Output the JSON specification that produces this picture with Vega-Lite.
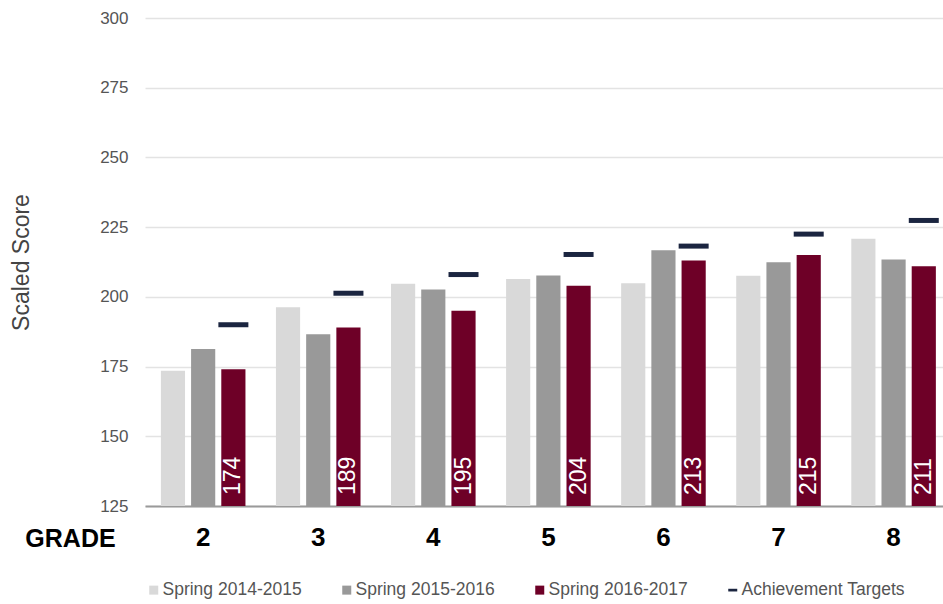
{
  "$schema": "https://vega.github.io/schema/vega-lite/v6.json",
  "width": 798,
  "height": 488,
  "autosize": {"type": "none"},
  "padding": {"left": 145, "top": 18, "right": 0, "bottom": 98},
  "background": "white",
  "config": {
    "view": {"stroke": null},
    "font": "Liberation Sans"
  },
  "datasets": {
    "scores": [
      {"grade": "2", "series": "Spring 2014-2015", "score": 173.5},
      {"grade": "2", "series": "Spring 2015-2016", "score": 181.3},
      {"grade": "2", "series": "Spring 2016-2017", "score": 174},
      {"grade": "3", "series": "Spring 2014-2015", "score": 196.3},
      {"grade": "3", "series": "Spring 2015-2016", "score": 186.6},
      {"grade": "3", "series": "Spring 2016-2017", "score": 189},
      {"grade": "4", "series": "Spring 2014-2015", "score": 204.7},
      {"grade": "4", "series": "Spring 2015-2016", "score": 202.6},
      {"grade": "4", "series": "Spring 2016-2017", "score": 195},
      {"grade": "5", "series": "Spring 2014-2015", "score": 206.4},
      {"grade": "5", "series": "Spring 2015-2016", "score": 207.7},
      {"grade": "5", "series": "Spring 2016-2017", "score": 204},
      {"grade": "6", "series": "Spring 2014-2015", "score": 204.9},
      {"grade": "6", "series": "Spring 2015-2016", "score": 216.7},
      {"grade": "6", "series": "Spring 2016-2017", "score": 213},
      {"grade": "7", "series": "Spring 2014-2015", "score": 207.6},
      {"grade": "7", "series": "Spring 2015-2016", "score": 212.4},
      {"grade": "7", "series": "Spring 2016-2017", "score": 215},
      {"grade": "8", "series": "Spring 2014-2015", "score": 220.8},
      {"grade": "8", "series": "Spring 2015-2016", "score": 213.4},
      {"grade": "8", "series": "Spring 2016-2017", "score": 211}
    ],
    "targets": [
      {"grade": "2", "series": "Spring 2016-2017", "kind": "Achievement Targets", "target": 190},
      {"grade": "3", "series": "Spring 2016-2017", "kind": "Achievement Targets", "target": 201.3},
      {"grade": "4", "series": "Spring 2016-2017", "kind": "Achievement Targets", "target": 208},
      {"grade": "5", "series": "Spring 2016-2017", "kind": "Achievement Targets", "target": 215.2},
      {"grade": "6", "series": "Spring 2016-2017", "kind": "Achievement Targets", "target": 218.2},
      {"grade": "7", "series": "Spring 2016-2017", "kind": "Achievement Targets", "target": 222.5},
      {"grade": "8", "series": "Spring 2016-2017", "kind": "Achievement Targets", "target": 227.4}
    ]
  },
  "encoding": {
    "x": {
      "field": "grade",
      "type": "nominal",
      "sort": ["2", "3", "4", "5", "6", "7", "8"],
      "scale": {"paddingInner": 0.265, "paddingOuter": 0.1, "align": 0.69},
      "axis": {
        "title": "GRADE",
        "titleFontSize": 25,
        "titleFontWeight": "bold",
        "titleColor": "#000000",
        "titleAlign": "center",
        "titleBaseline": "middle",
        "titleX": -75,
        "titleY": 32,
        "labelAngle": 0,
        "labelFontSize": 26,
        "labelFontWeight": "bold",
        "labelColor": "#000000",
        "labelPadding": 31,
        "labelBaseline": "middle",
        "ticks": false,
        "domain": true,
        "domainColor": "#9a9a9a",
        "domainWidth": 2
      }
    }
  },
  "layer": [
    {
      "data": {"name": "scores"},
      "mark": {"type": "bar"},
      "encoding": {
        "xOffset": {
          "field": "series",
          "type": "nominal",
          "scale": {"paddingInner": 0.2, "paddingOuter": 0}
        },
        "y": {
          "field": "score",
          "type": "quantitative",
          "scale": {"domain": [125, 300], "zero": false, "nice": false},
          "axis": {
            "title": "Scaled Score",
            "titleFontSize": 23,
            "titleFontWeight": "normal",
            "titleColor": "#444444",
            "titlePadding": 66,
            "values": [125, 150, 175, 200, 225, 250, 275, 300],
            "labelFontSize": 17,
            "labelColor": "#555555",
            "labelPadding": 17,
            "ticks": false,
            "domain": false,
            "grid": true,
            "gridColor": "#e3e3e3",
            "gridWidth": 1.5
          }
        },
        "y2": {"datum": 125},
        "color": {
          "field": "series",
          "type": "nominal",
          "scale": {
            "domain": ["Spring 2014-2015", "Spring 2015-2016", "Spring 2016-2017", "Achievement Targets"],
            "range": ["#d9d9d9", "#999999", "#6e0027", "#1b2540"]
          },
          "legend": {
            "title": null,
            "orient": "bottom",
            "direction": "horizontal",
            "labelFontSize": 17.5,
            "labelColor": "#555555",
            "labelLimit": 400,
            "symbolSize": 81,
            "symbolStrokeWidth": 0,
            "columnPadding": 36,
            "labelOffset": 0,
            "offset": 30,
            "encode": {
              "symbols": {
                "update": {
                  "shape": {"signal": "datum.value === 'Achievement Targets' ? 'M-1,-0.3H1V0.3H-1Z' : 'square'"}
                }
              }
            }
          }
        }
      }
    },
    {
      "data": {"name": "targets"},
      "mark": {"type": "tick", "size": 30, "thickness": 5, "opacity": 1},
      "encoding": {
        "xOffset": {"field": "series", "type": "nominal"},
        "y": {"field": "target", "type": "quantitative"},
        "color": {"field": "kind", "type": "nominal"}
      }
    },
    {
      "data": {"name": "scores"},
      "transform": [{"filter": "datum.series === 'Spring 2016-2017'"}],
      "mark": {
        "type": "text",
        "angle": 270,
        "align": "left",
        "baseline": "middle",
        "dx": 11,
        "fontSize": 23,
        "color": "#ffffff"
      },
      "encoding": {
        "xOffset": {"field": "series", "type": "nominal"},
        "y": {"datum": 125},
        "text": {"field": "score", "type": "quantitative", "format": "d"}
      }
    }
  ]
}
